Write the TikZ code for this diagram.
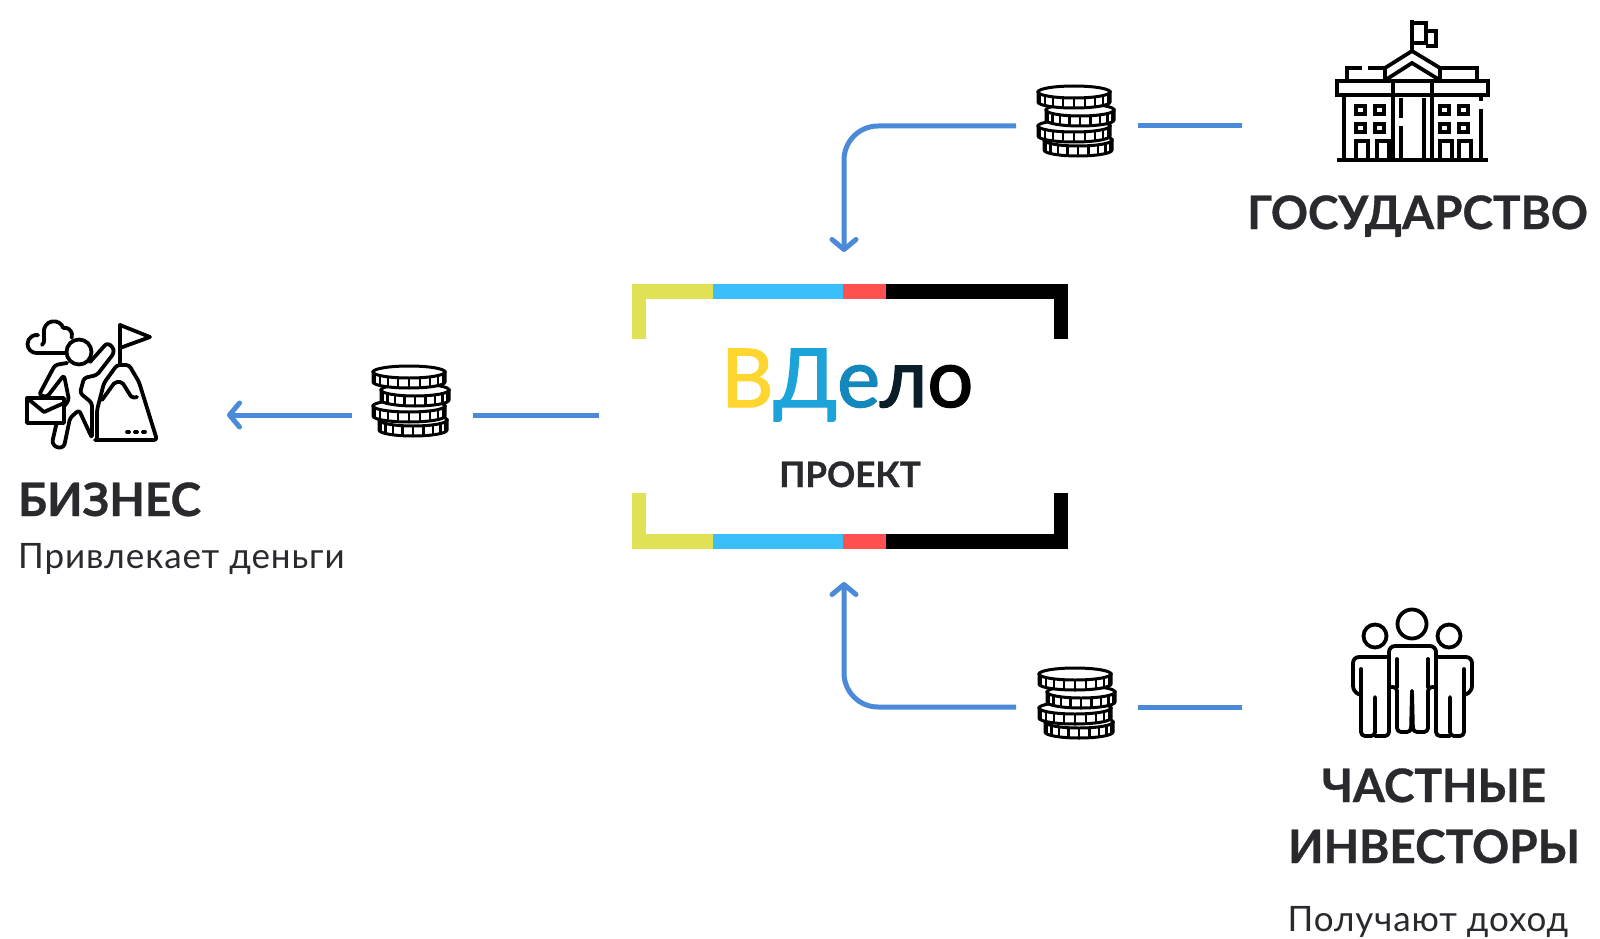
\documentclass[tikz,border=0pt]{standalone}
\usepackage{fontspec}
\setmainfont{Lato}
\usetikzlibrary{arrows.meta,positioning}
\definecolor{flowblue}{HTML}{4A8AD8}
\definecolor{inkdark}{HTML}{2A2A2E}
\definecolor{barlime}{HTML}{E0E155}
\definecolor{barsky}{HTML}{3BBFFA}
\definecolor{barred}{HTML}{FF5050}
\definecolor{logoyellow}{HTML}{FFD530}
\definecolor{logoblue}{HTML}{1BA3DA}
\definecolor{logoteal}{HTML}{1488BC}
\definecolor{logonavy}{HTML}{0A1E2A}
\newcommand{\onecoin}[3]{%
  \filldraw[fill=white] (#1-#3,#2) -- ++(0,-10) arc[start angle=180,end angle=360,x radius=#3,y radius=6] -- ++(0,10) -- cycle;
  \filldraw[fill=white] (#1,#2) ellipse[x radius=#3,y radius=6];
  \foreach \a in {198,216,...,342}
    \draw[line width=2.4pt] ({#1+#3*cos(\a)},{#2-1+6*sin(\a)}) -- ++(0,-8);
}
\tikzset{
  coinstack/.pic={
    \begin{scope}[line width=3pt]
      \onecoin{41}{-55}{34}
      \onecoin{37}{-41}{36}
      \onecoin{43}{-25}{34}
      \onecoin{37}{-7}{36}
    \end{scope}
  },
  townhall/.pic={
    \begin{scope}[line width=3.8pt]
      \draw (75,0) -- (75,-31);
      \draw (75,-3) -- (89,-3) -- (89,-23) -- (75,-23);
      \draw (89,-11) -- (99,-11) -- (99,-26) -- (89,-26);
      \draw[line join=round] (48,-59) -- (48,-48) -- (75,-31) -- (103,-48) -- (103,-59);
      \draw (50,-59) -- (75,-43) -- (101,-59);
      \draw (10,-61) -- (10,-48) -- (25,-48);
      \draw (31,-48) -- (48,-48);
      \draw (103,-48) -- (140,-48) -- (140,-61);
      \draw (0,-61) rectangle (151,-75);
      \draw (56,-61) -- (56,-139);
      \draw (95,-61) -- (95,-139);
      \draw (7,-75) -- (7,-139);
      \draw (144,-75) -- (144,-81);
      \draw (144,-89) -- (144,-139);
      \draw (64,-78) -- (64,-98);
      \draw (64,-106) -- (64,-139);
      \draw (87,-78) -- (87,-139);
      \foreach \wx in {19,38,103,122}
        \foreach \wy in {-86,-104}
          \draw[line width=3.4pt] (\wx,\wy) rectangle ++(9,-8);
      \foreach \dx in {19,40,103,122}
        \draw[line width=3.2pt] (\dx,-139) -- ++(0,18) -- ++(12,0) -- ++(0,-18);
      \draw[line width=4.2pt] (0,-140) -- (151,-140);
    \end{scope}
  },
  climber/.pic={
    \begin{scope}[line width=3.8pt,line join=round,line cap=round]
      \draw (38,-33) -- (9.5,-33) arc[start angle=270,end angle=80,radius=9];
      \draw (15,-25) .. controls (19,-22) and (16,-16) .. (17,-13) arc[start angle=190,end angle=20,radius=10] arc[start angle=100,end angle=-20,radius=7.5];
      \filldraw[fill=white] (52,-32) circle (12.5);
      \draw[rounded corners=3pt] (63,-42) -- (80,-23) -- (86,-27) -- (87,-33) -- (70,-55) -- (57,-58) -- (53,-73) -- (65,-83) -- (65,-118) -- (52,-90) -- (43,-98) -- (37,-127) -- (30,-128) -- (25,-123) -- (32,-93) -- (42,-80) -- (37,-55) -- (20,-77) -- (12,-75) -- (28,-45) -- (40,-43);
      \filldraw[fill=white] (0,-78) rectangle (37,-103);
      \draw (0,-78) -- (17,-92) -- (37,-83);
      \draw (93,-5) -- (93,-43);
      \draw (93,-5) -- (123,-17) -- (93,-28);
      \draw[rounded corners=3pt] (70,-118) -- (70,-90) -- (77,-63) -- (90,-45) -- (102,-45) -- (112,-62) -- (130,-120) -- (68,-120);
      \draw[rounded corners=2pt] (75,-80) -- (88,-62) -- (95,-62) -- (105,-78) -- (110,-77);
      \foreach \px in {100,108,116}
        \draw (\px,-112) -- ++(2,0);
    \end{scope}
  },
  investors/.pic={
    \begin{scope}[line width=3.8pt,line join=round,line cap=round]
      \draw (60,-15) circle (14.5);
      \draw (23,-27) circle (11.5);
      \draw (97,-27) circle (11.5);
      \draw[rounded corners=6pt] (37,-78) -- (37,-37) -- (84,-37) -- (84,-78);
      \draw[rounded corners=4pt] (37,-78) -- (45,-78) -- (45,-123) -- (59,-123) -- (60,-82);
      \draw[rounded corners=4pt] (84,-78) -- (76,-78) -- (76,-123) -- (61,-123) -- (60,-82);
      \draw (45,-50) -- (45,-78);
      \draw (76,-50) -- (76,-78);
      \draw[rounded corners=6pt] (37,-48) -- (1,-48) -- (1,-83) -- (9,-86);
      \draw (9,-60) -- (9,-86);
      \draw[rounded corners=4pt] (9,-86) -- (9,-127) -- (23,-127) -- (23,-88);
      \draw[rounded corners=4pt] (23,-127) -- (37,-127) -- (37,-78);
      \draw[rounded corners=6pt] (84,-48) -- (120,-48) -- (120,-83) -- (112,-86);
      \draw (112,-60) -- (112,-86);
      \draw[rounded corners=4pt] (112,-86) -- (112,-127) -- (98,-127) -- (98,-88);
      \draw[rounded corners=4pt] (98,-127) -- (84,-127) -- (84,-78);
    \end{scope}
  }
}

\begin{document}
\begin{tikzpicture}[x=1pt,y=1pt]
  \tikzstyle{flow}=[line width=5pt, draw=flowblue]
  \tikzstyle{arrowed}=[flow, -{Straight Barb[length=10pt,width=24pt,round]}, rounded corners=34pt]
  \tikzstyle{spacer}=[inner sep=0pt, outer sep=0pt]
  \tikzstyle{heading}=[inner sep=0pt, text=inkdark, font=\fontsize{46}{46}\selectfont\bfseries\addfontfeature{FakeBold=0.7}]
  \tikzstyle{remark}=[inner sep=0pt, text=inkdark, font=\fontsize{35}{35}\selectfont\addfontfeature{LetterSpace=2.6}]
  \useasboundingbox (0,0) rectangle (1600,-939);
  \fill[white] (0,0) rectangle (1600,-939);

  % frame of the project
  \foreach \bary in {-284,-534}{
    \fill[barlime] (632,\bary) rectangle (713,\bary-15);
    \fill[barsky] (713,\bary) rectangle (843,\bary-15);
    \fill[barred] (843,\bary) rectangle (886,\bary-15);
    \fill[black] (886,\bary) rectangle (1068,\bary-15);
  }
  \fill[barlime] (632,-284) rectangle (646,-339);
  \fill[barlime] (632,-493) rectangle (646,-549);
  \fill[black] (1054,-284) rectangle (1068,-339);
  \fill[black] (1054,-493) rectangle (1068,-549);

  \node[spacer, minimum width=490pt, minimum height=330pt] (Prj) at (844,-417) {};
  \node[inner sep=0pt, anchor=base west, font=\fontsize{81}{81}\selectfont\addfontfeature{FakeBold=1.8}] (Logo) at (721,-407)
    {{\color{logoyellow}В}{\color{logoblue}Д}{\color{logoteal}е}{\color{logonavy}л}{\color{black}о}};
  \node[heading, anchor=base, font=\fontsize{35}{35}\selectfont\bfseries\addfontfeature{FakeBold=0.7}] (PrjName) at (850,-487) {ПРОЕКТ};

  % coins
  \node[spacer, minimum width=122pt, minimum height=70pt] (CoinGov) at (1077,-126) {};
  \node[spacer, minimum width=122pt, minimum height=70pt] (CoinInv) at (1077,-707) {};
  \node[spacer, minimum width=121pt, minimum height=70pt] (CoinBiz) at (412.5,-415) {};
  \pic at (1037,-85) {coinstack};
  \pic at (1038,-667) {coinstack};
  \pic at (372,-365) {coinstack};

  % icons and texts
  \pic at (1337,-20) {townhall};
  \pic at (27,-320) {climber};
  \pic at (1352,-609) {investors};
  \coordinate (GovEnd) at (1242,-126);
  \coordinate (InvEnd) at (1242,-707);
  \coordinate (BizEnd) at (227,-415);
  \node[heading, anchor=base west] (Gov) at (1247,-229) {ГОСУДАРСТВО};
  \node[heading, anchor=base west] (Biz) at (18,-516) {БИЗНЕС};
  \node[remark, anchor=base west] (BizNote) at (18,-568) {Привлекает деньги};
  \node[heading, anchor=base] (InvA) at (1434,-802) {ЧАСТНЫЕ};
  \node[heading, anchor=base] (InvB) at (1434,-863) {ИНВЕСТОРЫ};
  \node[remark, anchor=base] (InvNote) at (1428,-931) {Получают доход};

  % connectors
  \draw[flow] (GovEnd) -- (CoinGov.east);
  \draw[arrowed] (CoinGov.west) -| (Prj.north);
  \draw[flow] (InvEnd) -- (CoinInv.east);
  \draw[arrowed] (CoinInv.west) -| (Prj.south);
  \draw[flow] (Prj.west |- CoinBiz) -- (CoinBiz.east);
  \draw[arrowed] (CoinBiz.west) -- (BizEnd);
\end{tikzpicture}
\end{document}
